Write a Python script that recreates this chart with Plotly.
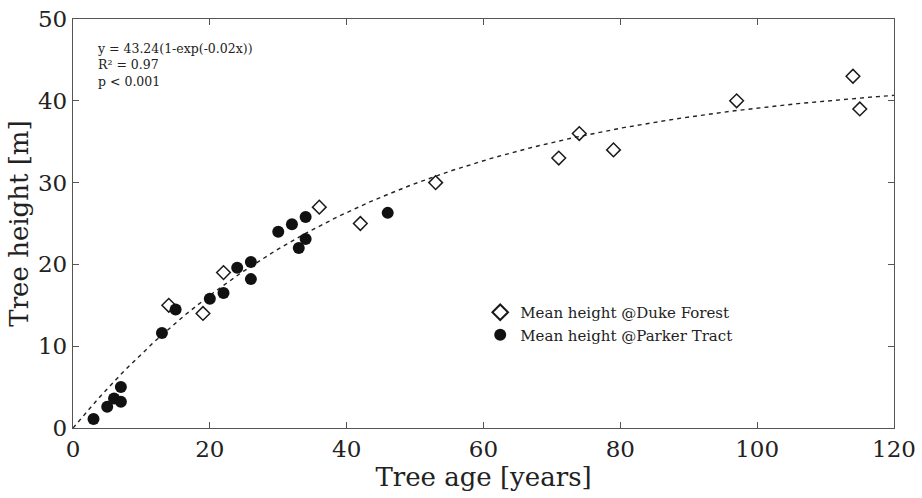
import numpy as np
import plotly.graph_objects as go

# Mean tree height by stand age
duke_age = [14, 19, 22, 36, 42, 53, 71, 74, 79, 97, 114, 115]
duke_height = [15, 14, 19, 27, 25, 30, 33, 36, 34, 40, 43, 39]

parker_age = [3, 5, 6, 7, 7, 13, 15, 20, 22, 24, 26, 26, 30, 32, 33, 34, 34, 46]
parker_height = [1.1, 2.6, 3.6, 5.0, 3.2, 11.6, 14.5, 15.8, 16.5, 19.6, 20.3,
                 18.2, 24.0, 24.9, 22.0, 25.8, 23.1, 26.3]

# Fitted growth curve y = A(1 - exp(-k x))
fit_A = 43.24
fit_k = 0.0235
fit_r2 = 0.97
fit_p = "p < 0.001"

x_ticks = [0, 20, 40, 60, 80, 100, 120]
y_ticks = [0, 10, 20, 30, 40, 50]

FONT = "DejaVu Serif"
INK = "#222222"
AXIS = "#555555"

fit_x = np.linspace(0, 120, 300)
fit_y = fit_A * (1 - np.exp(-fit_k * fit_x))

fig = go.Figure()

fig.add_trace(go.Scatter(
    x=fit_x, y=fit_y, mode="lines",
    line=dict(color="#222222", width=1.4, dash="4px,4px"),
    showlegend=False, hoverinfo="skip",
))

fig.add_trace(go.Scatter(
    x=duke_age, y=duke_height, mode="markers",
    name="Mean height @Duke Forest",
    marker=dict(symbol="diamond-open", size=10.5, color="#1a1a1a",
                line=dict(width=1.5, color="#1a1a1a")),
))

fig.add_trace(go.Scatter(
    x=parker_age, y=parker_height, mode="markers",
    name="Mean height @Parker Tract",
    marker=dict(symbol="circle", size=12, color="#111111",
                line=dict(width=0)),
))

eq_text = (f"y = {fit_A:.2f}(1-exp(-{fit_k:.2f}x))<br>"
           f"R² = {fit_r2:.2f}<br>{fit_p}")
fig.add_annotation(
    x=0.027, y=0.952, xref="paper", yref="paper",
    xanchor="left", yanchor="top", align="left",
    text=eq_text, showarrow=False,
    font=dict(family=FONT, size=12.5, color=INK),
)

axis_common = dict(
    showline=True, linecolor=AXIS, linewidth=1.3, mirror="ticks",
    ticks="inside", ticklen=6, tickwidth=1.2, tickcolor=AXIS,
    showgrid=False, zeroline=False, automargin=False,
    tickfont=dict(family=FONT, size=23, color=INK),
)

fig.update_xaxes(
    range=[0, 120], tickvals=x_ticks,
    title=dict(text="Tree age [years]", font=dict(family=FONT, size=26, color=INK),
               standoff=4),
    **axis_common,
)
fig.update_yaxes(
    range=[0, 50], tickvals=y_ticks,
    title=dict(text="Tree height [m]", font=dict(family=FONT, size=26, color=INK),
               standoff=1),
    **axis_common,
)

fig.update_layout(
    width=922, height=498,
    margin=dict(l=73, r=28, t=19, b=70, autoexpand=False),
    paper_bgcolor="white", plot_bgcolor="white",
    legend=dict(
        x=0.496, y=0.2555, xanchor="left", yanchor="middle",
        font=dict(family=FONT, size=15, color=INK),
        bgcolor="rgba(0,0,0,0)", borderwidth=0,
        itemsizing="constant",
    ),
)

fig.write_html("out.html")
